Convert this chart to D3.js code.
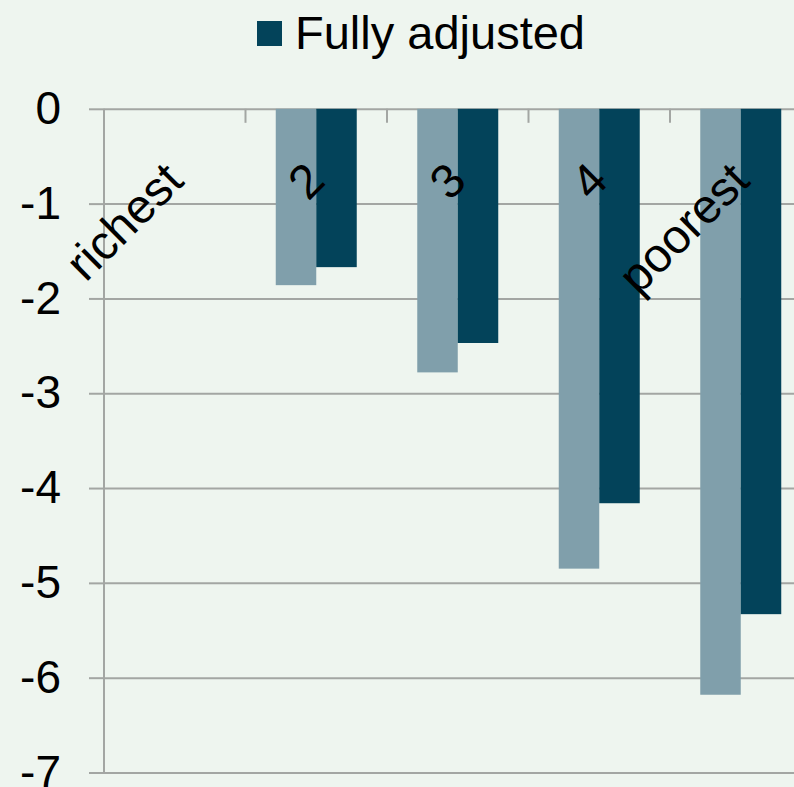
<!DOCTYPE html>
<html>
<head>
<meta charset="utf-8">
<script src="https://cdn.jsdelivr.net/npm/d3@7"></script>
<style>
  html, body { margin: 0; padding: 0; background: #eef5ef; }
  svg { display: block; }
  text { font-family: "Liberation Sans", Arial, sans-serif; fill: #000; }
</style>
</head>
<body>
<svg id="chart" width="794" height="787"></svg>
<script>
// ---- data ----
const categories = ["richest", "2", "3", "4", "poorest"];
const seriesNames = ["Age-sex adjusted", "Fully adjusted"];
const ageSexAdjusted = [0, -1.86, -2.78, -4.85, -6.18];
const fullyAdjusted  = [0, -1.67, -2.47, -4.16, -5.33];
const yTicks = [0, -1, -2, -3, -4, -5, -6, -7];
const legendShown = ["Fully adjusted"];

const colors = { "Age-sex adjusted": "#809fab", "Fully adjusted": "#03435a" };
const seriesValues = { "Age-sex adjusted": ageSexAdjusted, "Fully adjusted": fullyAdjusted };

const svg = d3.select("#chart");
const W = 794, H = 787;
svg.append("rect").attr("width", W).attr("height", H).attr("fill", "#eef5ef");

const plotLeft = 104, plotRight = 811.5, plotTop = 108.8, plotBottom = 772.5;

const y = d3.scaleLinear().domain([-7, 0]).range([plotBottom, plotTop]);
const x0 = d3.scaleBand().domain(categories).range([plotLeft, plotRight]).padding(0);
const bw = x0.bandwidth();
const x1 = d3.scaleBand().domain(seriesNames).range([bw * 0.2138, bw * 0.7862]).padding(0);

// gridlines via axis
const grid = svg.append("g")
  .attr("transform", `translate(${plotLeft},0)`)
  .call(d3.axisLeft(y).tickValues(yTicks).tickSize(-(W - plotLeft + 10)).tickFormat(""));
grid.select(".domain").remove();
grid.selectAll(".tick line").attr("stroke", "#a3a6a3").attr("stroke-width", 2);

// tick extensions to the left of axis + labels
const yAxis = svg.append("g")
  .attr("transform", `translate(${plotLeft},0)`)
  .call(d3.axisLeft(y).tickValues(yTicks).tickSize(15).tickPadding(28).tickFormat(d => d === 0 ? "0" : "-" + Math.abs(d)));
yAxis.select(".domain").remove();
yAxis.selectAll(".tick line").attr("stroke", "#a3a6a3").attr("stroke-width", 2);
yAxis.selectAll(".tick text")
  .attr("font-size", 46)
  .attr("font-family", "Liberation Sans, Arial, sans-serif")
  .attr("fill", "#000");

// bars
const groups = svg.append("g").selectAll("g")
  .data(categories)
  .join("g")
  .attr("transform", d => `translate(${x0(d)},0)`);

groups.selectAll("rect")
  .data((c, i) => seriesNames.map(s => ({ s, v: seriesValues[s][i] })))
  .join("rect")
  .attr("x", d => x1(d.s))
  .attr("width", x1.bandwidth())
  .attr("y", d => y(Math.max(0, d.v)))
  .attr("height", d => Math.abs(y(d.v) - y(0)))
  .attr("fill", d => colors[d.s]);

// vertical axis line
svg.append("line")
  .attr("x1", plotLeft).attr("x2", plotLeft)
  .attr("y1", plotTop).attr("y2", plotBottom)
  .attr("stroke", "#a3a6a3").attr("stroke-width", 2);

// category axis at y=0 (tick marks at band boundaries, pointing down)
const boundaries = categories.slice(1).map(c => x0(c));
svg.append("g").selectAll("line")
  .data(boundaries)
  .join("line")
  .attr("x1", d => d).attr("x2", d => d)
  .attr("y1", y(0)).attr("y2", y(0) + 14)
  .attr("stroke", "#a3a6a3").attr("stroke-width", 2);

// category labels rotated -45
svg.append("g").selectAll("text")
  .data(categories)
  .join("text")
  .attr("transform", d => `translate(${x0(d) + bw / 2 + 11},183) rotate(-45)`)
  .attr("text-anchor", "end")
  .attr("font-size", 48)
  .text(d => d);

// legend
const leg = svg.append("g").attr("transform", "translate(257,21)");
legendShown.forEach((name, i) => {
  leg.append("rect").attr("x", 0).attr("y", 0).attr("width", 25).attr("height", 25).attr("fill", colors[name]);
  leg.append("text").attr("x", 38).attr("y", 27.5).attr("font-size", 47).text(name);
});
</script>
</body>
</html>
